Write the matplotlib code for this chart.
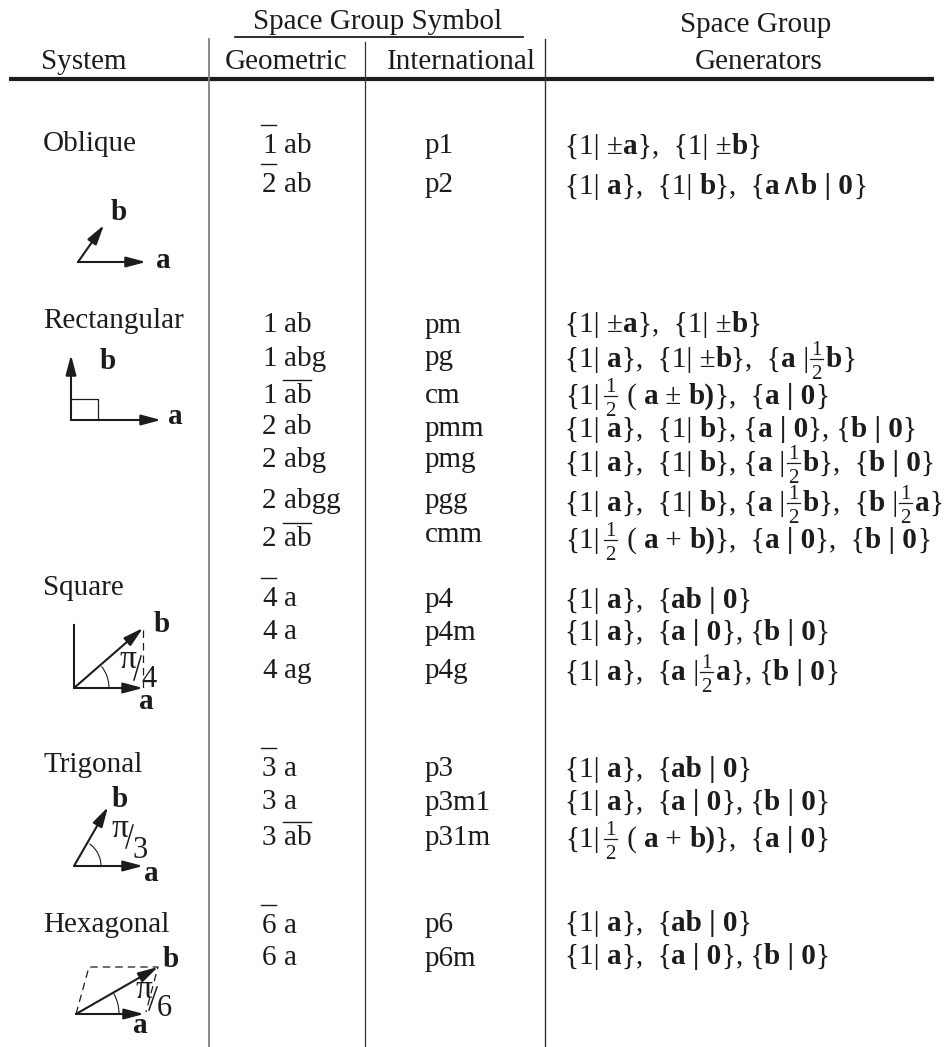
import re
import matplotlib
matplotlib.use('Agg')
import matplotlib.pyplot as plt
from matplotlib.patches import Arc

INK = '#1c1c1c'
FONT = ['Liberation Serif', 'DejaVu Serif']

# table contents
systems = ['Oblique', 'Rectangular', 'Square', 'Trigonal', 'Hexagonal']
system_y = [151, 328, 595, 772, 932]

# number, letters, where the bar goes: n = over the number, l = over the letters
geometric = [('1', 'ab', 'n'), ('2', 'ab', 'n'),
             ('1', 'ab', ''), ('1', 'abg', ''), ('1', 'ab', 'l'), ('2', 'ab', ''),
             ('2', 'abg', ''), ('2', 'abgg', ''), ('2', 'ab', 'l'),
             ('4', 'a', 'n'), ('4', 'a', ''), ('4', 'ag', ''),
             ('3', 'a', 'n'), ('3', 'a', ''), ('3', 'ab', 'l'),
             ('6', 'a', 'n'), ('6', 'a', '')]
geometric_y = [153, 192, 332, 366, 403, 434, 467, 508, 546, 606, 639, 678, 776, 809, 845, 933, 965]

international = ['p1', 'p2', 'pm', 'pg', 'cm', 'pmm', 'pmg', 'pgg', 'cmm',
                 'p4', 'p4m', 'p4g', 'p3', 'p3m1', 'p31m', 'p6', 'p6m']
international_y = [153, 192, 333, 365, 403, 436, 467, 508, 542, 607, 640, 678, 776, 810, 845, 932, 966]

# ** ** = bold, @ = fraction one half, ~ = small gap
generators = [
    '{1| ±**a**},  {1| ±**b**}',
    '{1| **a**},  {1| **b**},  {**a**∧**b | 0**}',
    '{1| ±**a**},  {1| ±**b**}',
    '{1| **a**},  {1| ±**b**},  {**a** |@**b**}',
    '{1|~@ ( **a** ± **b)**},  {**a | 0**}',
    '{1| **a**},  {1| **b**}, {**a | 0**}, {**b | 0**}',
    '{1| **a**},  {1| **b**}, {**a** |@**b**},  {**b | 0**}',
    '{1| **a**},  {1| **b**}, {**a** |@**b**},  {**b** |@**a**}',
    '{1|~@ ( **a** + **b)**},  {**a | 0**},  {**b | 0**}',
    '{1| **a**},  {**ab | 0**}',
    '{1| **a**},  {**a | 0**}, {**b | 0**}',
    '{1| **a**},  {**a** |@**a**}, {**b | 0**}',
    '{1| **a**},  {**ab | 0**}',
    '{1| **a**},  {**a | 0**}, {**b | 0**}',
    '{1|~@ ( **a** + **b)**},  {**a | 0**}',
    '{1| **a**},  {**ab | 0**}',
    '{1| **a**},  {**a | 0**}, {**b | 0**}',
]
generators_y = [154, 194, 332, 367, 404, 437, 471, 511, 548, 608, 640, 680, 777, 810, 847, 931, 964]

fig = plt.figure(figsize=(9.52, 10.47), dpi=100)
ax = fig.add_axes([0, 0, 1, 1])
ax.set_xlim(0, 952)
ax.set_ylim(1047, 0)
ax.axis('off')
renderer = fig.canvas.get_renderer()


def txt(x, y, s, size=21, weight='normal', ha='left'):
    return ax.text(x, y, s, fontsize=size, fontweight=weight, family=FONT,
                   color=INK, ha=ha, va='baseline')


def advance(s, size, weight):
    # measure between two bars so that spaces count
    a = txt(0, 0, '|' + s + '|', size, weight)
    b = txt(0, 0, '||', size, weight)
    w = a.get_window_extent(renderer).width - b.get_window_extent(renderer).width
    a.remove()
    b.remove()
    return w


def fraction(x, y):
    ax.plot([x + 1, x + 14], [y - 8, y - 8], color=INK, lw=0.9)
    txt(x + 7.5, y - 12, '1', 15, ha='center')
    txt(x + 7.5, y + 12, '2', 15, ha='center')
    return 17


def rich_line(x, y, s):
    for part in re.split(r'(\*\*.*?\*\*|@|~)', s):
        if part == '@':
            x += fraction(x, y)
        elif part == '~':
            x += 3
        elif part.startswith('**'):
            txt(x, y, part[2:-2], weight='bold')
            x += advance(part[2:-2], 21, 'bold')
        elif part:
            txt(x, y, part)
            x += advance(part, 21, 'normal')


def arrow(x0, y0, x1, y1):
    ax.annotate('', xy=(x1, y1), xytext=(x0, y0),
                arrowprops=dict(arrowstyle='-|>,head_length=0.75,head_width=0.2', lw=1.5,
                                color=INK, shrinkA=0, shrinkB=0, mutation_scale=16))


def thin(xs, ys, dashed=False):
    ax.plot(xs, ys, color=INK, lw=0.9, ls=(0, (6, 4)) if dashed else '-')


# header
txt(378, 29, 'Space Group Symbol', ha='center')
txt(41, 69, 'System')
txt(225, 69, 'Geometric')
txt(387, 69, 'International')
txt(756, 32, 'Space Group', ha='center')
txt(759, 69, 'Generators', ha='center')
ax.plot([235, 523], [37, 37], color=INK, lw=1.3)
ax.plot([9, 934], [79, 79], color=INK, lw=3, solid_capstyle='butt')

# column rules
ax.plot([209, 209], [39, 1047], color='#808080', lw=1.3)
ax.plot([365, 365], [42, 1047], color='#333333', lw=0.9)
ax.plot([545, 545], [39, 1047], color='#333333', lw=1.0)

for name, y in zip(systems, system_y):
    txt(43, y, name)

for (num, letters, bar), y in zip(geometric, geometric_y):
    txt(262, y, num)
    txt(284, y, letters)
    if bar == 'n':
        ax.plot([261, 276], [y - 28, y - 28], color=INK, lw=1.0)
    elif bar == 'l':
        ax.plot([283, 311], [y - 23, y - 23], color=INK, lw=1.0)

for name, y in zip(international, international_y):
    txt(425, y, name)

for line, y in zip(generators, generators_y):
    rich_line(565, y, line)

# oblique sketch
arrow(78, 262, 146, 262)
arrow(78, 262, 104, 225)
txt(111, 220, 'b', weight='bold')
txt(156, 268, 'a', weight='bold')

# rectangular sketch
arrow(71, 420, 161, 420)
arrow(71, 420, 71, 355)
thin([71, 98, 98], [399, 399, 420])
txt(100, 369, 'b', weight='bold')
txt(168, 424, 'a', weight='bold')


def angle(x, y, r, deg):
    ax.add_patch(Arc((x, y), 2 * r, 2 * r, theta1=-deg, theta2=0, color=INK, lw=0.8))


def slash(x0, y0, x1, y1):
    ax.plot([x0, x1], [y0, y1], color=INK, lw=1.1)


# square sketch
ax.plot([74, 74], [625, 688], color=INK, lw=1.5)
arrow(74, 688, 143, 688)
arrow(74, 688, 143, 628)
thin([143, 143], [630, 688], dashed=True)
angle(74, 688, 35, 38)
txt(119, 668, 'π', 24)
slash(134, 680, 141, 656)
txt(141, 687, '4', 22)
txt(139, 709, 'a', weight='bold')
txt(154, 632, 'b', weight='bold')

# trigonal sketch
arrow(74, 866, 143, 866)
arrow(74, 866, 108, 807)
angle(74, 866, 27, 55)
txt(111, 837, 'π', 24)
slash(126, 848, 133, 825)
txt(133, 858, '3', 22)
txt(112, 807, 'b', weight='bold')
txt(144, 881, 'a', weight='bold')

# hexagonal sketch
arrow(76, 1014, 144, 1014)
arrow(76, 1014, 158, 967)
thin([76, 89, 158, 146], [1014, 967, 967, 1012], dashed=True)
angle(76, 1014, 43, 29)
txt(135, 998, 'π', 24)
slash(149, 1010, 157, 987)
txt(157, 1016, '6', 22)
txt(163, 967, 'b', weight='bold')
txt(133, 1033, 'a', weight='bold')

fig.savefig('out.png', dpi=100, facecolor='white')
